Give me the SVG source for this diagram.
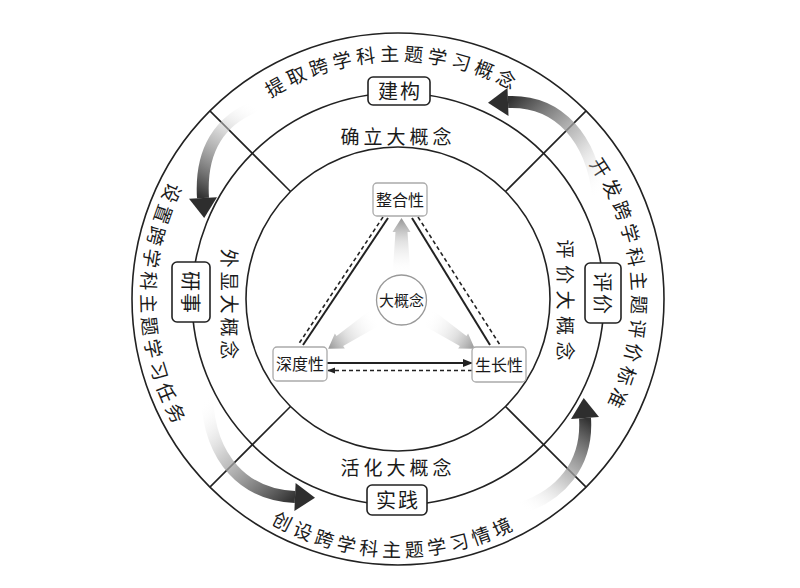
<svg xmlns="http://www.w3.org/2000/svg" width="800" height="588" viewBox="0 0 800 588">
<style>
.ring{fill:none;stroke:#222;stroke-width:1.6}
.div{stroke:#222;stroke-width:1.6}
.t{font-family:"Noto Sans CJK SC","Noto Sans",sans-serif;fill:#1a1a1a}
.outer{font-size:19px;letter-spacing:4.4px}
.mid{font-size:19px}
.box{fill:#fff;stroke:#222;stroke-width:1.6}
.bl{font-size:20px;letter-spacing:2px}
.node{fill:#fff;stroke:#aaa;stroke-width:1.3}
.nl{font-size:16px}
.sol{stroke:#222;stroke-width:2;fill:none}
.dash{stroke:#222;stroke-width:1.6;stroke-dasharray:4 3;fill:none}
.band{fill:none;stroke-width:12}
.head{fill:#2e2e2e}
</style>
<defs>
<path id="pTop" d="M160,299 A238,238 0 0 1 636,299"/>
<path id="pRight" d="M398,65 A234,234 0 0 1 398,533"/>
<path id="pLeft" d="M398,42 A257,257 0 0 0 398,556"/>
<path id="pBottom" d="M140,299 A258,258 0 0 0 656,299"/>
<linearGradient id="g1" gradientUnits="userSpaceOnUse" x1="256" y1="106" x2="203" y2="198"><stop offset="0" stop-color="#fff" stop-opacity="0"/><stop offset="0.4" stop-color="#bbb" stop-opacity="0.7"/><stop offset="1" stop-color="#333"/></linearGradient>
<linearGradient id="g2" gradientUnits="userSpaceOnUse" x1="598" y1="195" x2="508" y2="102"><stop offset="0" stop-color="#fff" stop-opacity="0"/><stop offset="0.4" stop-color="#bbb" stop-opacity="0.7"/><stop offset="1" stop-color="#333"/></linearGradient>
<linearGradient id="g3" gradientUnits="userSpaceOnUse" x1="207" y1="398" x2="295" y2="497"><stop offset="0" stop-color="#fff" stop-opacity="0"/><stop offset="0.4" stop-color="#bbb" stop-opacity="0.7"/><stop offset="1" stop-color="#333"/></linearGradient>
<linearGradient id="g4" gradientUnits="userSpaceOnUse" x1="522" y1="508" x2="585" y2="418"><stop offset="0" stop-color="#fff" stop-opacity="0"/><stop offset="0.4" stop-color="#bbb" stop-opacity="0.7"/><stop offset="1" stop-color="#333"/></linearGradient>
<linearGradient id="gi" gradientUnits="userSpaceOnUse" x1="0" y1="-27" x2="0" y2="-84"><stop offset="0" stop-color="#fff" stop-opacity="0"/><stop offset="0.6" stop-color="#ccc" stop-opacity="0.6"/><stop offset="1" stop-color="#888" stop-opacity="0.9"/></linearGradient>
<path id="inArrow" d="M-9,-27 L-6,-70 L-9,-70 L0,-84 L9,-70 L6,-70 L9,-27 Z"/>
<marker id="mk" viewBox="0 0 10 10" refX="9" refY="5" markerWidth="5" markerHeight="5" orient="auto-start-reverse"><path d="M0,1 L10,5 L0,9 Z" fill="#222"/></marker>
</defs>

<g id="rings">
<circle class="ring" cx="398" cy="299" r="266"/>
<circle class="ring" cx="398" cy="299" r="206"/>
<circle class="ring" cx="398" cy="299" r="152"/>
<line class="div" x1="290.5" y1="191.5" x2="209.9" y2="110.9"/>
<line class="div" x1="505.5" y1="191.5" x2="586.1" y2="110.9"/>
<line class="div" x1="290.5" y1="406.5" x2="209.9" y2="487.1"/>
<line class="div" x1="505.5" y1="406.5" x2="586.1" y2="487.1"/>
</g>

<g id="outer-texts">
<text class="t outer" text-anchor="middle"><textPath href="#pTop" startOffset="367.7">提取跨学科主题学习概念</textPath></text>
<text class="t outer" text-anchor="middle"><textPath href="#pRight" startOffset="351.8">开发跨学科主题评价标准</textPath></text>
<text class="t outer" text-anchor="middle"><textPath href="#pLeft" startOffset="410.4">设置跨学科主题学习任务</textPath></text>
<text class="t outer" text-anchor="middle"><textPath href="#pBottom" startOffset="400.7">创设跨学科主题学习情境</textPath></text>
</g>

<g id="mid-texts">
<text class="t mid" x="398" y="144" text-anchor="middle" letter-spacing="4">确立大概念</text>
<text class="t mid" x="398" y="474.5" text-anchor="middle" letter-spacing="4">活化大概念</text>
<text class="t mid" transform="translate(229.5,304) rotate(90)" x="2" y="7.2" text-anchor="middle" letter-spacing="3.9">外显大概念</text>
<text class="t mid" transform="translate(565,300) rotate(90)" x="3.2" y="7.2" text-anchor="middle" letter-spacing="6.5">评价大概念</text>
</g>

<g id="connectors">
<path class="band" stroke="url(#g1)" d="M256,106 C220,120 200,150 203,198"/>
<polygon class="head" points="204.2,218 217,197.2 189,198.8"/>
<path class="band" stroke="url(#g2)" d="M598,195 C592,140 560,100 508,102"/>
<polygon class="head" points="488,102.8 508.5,116 507.5,88"/>
<path class="band" stroke="url(#g3)" d="M207,398 C210,460 245,495 295,497"/>
<polygon class="head" points="315,497.8 294.4,511 295.6,483"/>
<path class="band" stroke="url(#g4)" d="M522,508 C560,495 588,465 585,418"/>
<polygon class="head" points="583.7,398 599,417.1 571,418.9"/>
<g transform="translate(401.5,300)" fill="url(#gi)">
<use href="#inArrow" transform="translate(0,2)"/>
<use href="#inArrow" transform="rotate(-123.6) translate(0,-4)"/>
<use href="#inArrow" transform="rotate(123.6) translate(0,-4)"/>
</g>
<line class="sol" x1="388" y1="218" x2="303" y2="345"/>
<line class="dash" x1="383" y1="217" x2="298" y2="345"/>
<line class="sol" x1="412" y1="218" x2="490" y2="345"/>
<line class="dash" x1="418" y1="217" x2="500" y2="345"/>
<line class="sol" x1="327" y1="363" x2="472" y2="363" marker-end="url(#mk)"/>
<line class="dash" x1="328" y1="370.5" x2="472" y2="370.5" marker-start="url(#mk)"/>
</g>

<g id="n-jiangou">
<rect class="box" x="368" y="77" width="62" height="28" rx="5"/>
<text class="t bl" x="400" y="98.6" text-anchor="middle">建构</text>
</g>
<g id="n-shijian">
<rect class="box" x="367" y="485" width="60" height="30" rx="5"/>
<text class="t bl" x="398" y="507.6" text-anchor="middle">实践</text>
</g>
<g id="n-pingjia">
<rect class="box" x="585" y="263" width="36" height="60" rx="5"/>
<text class="t bl" transform="translate(603,293) rotate(90)" x="1" y="7.6" text-anchor="middle">评价</text>
</g>
<g id="n-yanshi">
<rect class="box" x="172" y="262" width="38" height="60" rx="5"/>
<text class="t bl" transform="translate(191,292) rotate(90)" x="1" y="7.6" text-anchor="middle">研事</text>
</g>

<g id="n-zhenghe">
<rect class="node" x="373" y="183" width="54" height="33" rx="4"/>
<text class="t nl" x="400" y="205.6" text-anchor="middle">整合性</text>
</g>
<g id="n-shendu">
<rect class="node" x="273" y="347" width="54" height="34" rx="4"/>
<text class="t nl" x="300" y="370" text-anchor="middle">深度性</text>
</g>
<g id="n-shengzhang">
<rect class="node" x="472" y="347" width="54" height="35" rx="4"/>
<text class="t nl" x="499" y="370.5" text-anchor="middle">生长性</text>
</g>
<g id="n-center">
<circle cx="401.5" cy="300" r="25" fill="#fff" stroke="#999" stroke-width="1.3"/>
<text class="t" font-size="15" x="401.5" y="305.7" text-anchor="middle">大概念</text>
</g>
</svg>
